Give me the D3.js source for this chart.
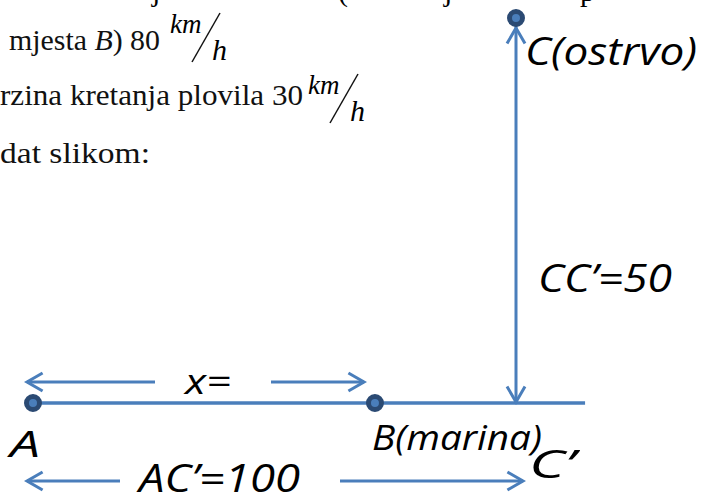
<!DOCTYPE html>
<html><head><meta charset="utf-8">
<script src="https://cdn.jsdelivr.net/npm/d3@7"></script>
<style>body{margin:0;background:#fff}svg{display:block}</style>
</head><body>
<svg id="c" width="701" height="500"></svg>
<script>
// diagram data (units: km along AC', km along CC')
const pointNames = ["A", "B", "C'", "C"];
const pointX = [0, 70.8, 100, 100];
const pointY = [0, 0, 0, 50];
const dotNames = ["A", "B", "C"];
const lineEndX = 114.3;
const distLabels = ["x=", "AC’=100", "CC’=50"];
const pointLabels = ["A", "B(marina)", "C’", "C(ostrvo)"];
const textLines = ["mjesta B) 80", "rzina kretanja plovila 30", "dat slikom:"];

const svg = d3.select("#c");
const xs = d3.scaleLinear().domain([0, 100]).range([33, 516]);
const ys = d3.scaleLinear().domain([0, 50]).range([403, 18]);
const P = {};
pointNames.forEach((n, i) => P[n] = {x: xs(pointX[i]), y: ys(pointY[i])});

const blue = "#4a7ebb", dark = "#2b4a73";
const sans = "'Open Sans', Lato, sans-serif";
const serif = "'Liberation Serif', 'DejaVu Serif', serif";

function arrowHead(g, x, y, dir) {
  const L = 18, a = 30 * Math.PI / 180, t = dir * Math.PI / 180;
  const p1 = [x - L * Math.cos(t - a), y - L * Math.sin(t - a)];
  const p2 = [x - L * Math.cos(t + a), y - L * Math.sin(t + a)];
  g.append("path").attr("d", `M${p1}L${x},${y}L${p2}`)
    .attr("fill", "none").attr("stroke", blue).attr("stroke-width", 3).attr("stroke-linejoin", "miter");
}
function arrowLine(x1, y1, x2, y2) {
  svg.append("line").attr("x1", x1).attr("y1", y1).attr("x2", x2).attr("y2", y2)
    .attr("stroke", blue).attr("stroke-width", 3);
  arrowHead(svg, x2, y2, Math.atan2(y2 - y1, x2 - x1) * 180 / Math.PI);
}

// top partial text line (descenders of the line above, cut by the page edge)
const topLine = svg.append("text").attr("y", 1).attr("font-family", serif).attr("font-size", 30).attr("fill", "#000");
[["j", 152], ["(", 338], ["j", 444], ["p", 580]].forEach(([c, x]) =>
  topLine.append("tspan").attr("x", x).text(c));

// serif text lines
const tl = [[9, 50, 151], [0, 105, 303], [0, 163, 150]];
textLines.forEach((t, i) => {
  const tx = svg.append("text").attr("x", tl[i][0]).attr("y", tl[i][1])
    .attr("font-family", serif).attr("font-size", 30).attr("fill", "#111")
    .attr("textLength", tl[i][2]).attr("lengthAdjust", "spacingAndGlyphs");
  if (i === 0) {
    tx.append("tspan").text("mjesta ");
    tx.append("tspan").attr("font-style", "italic").text("B");
    tx.append("tspan").text(") 80");
  } else tx.text(t);
});
function frac(x, y) {
  svg.append("text").attr("x", x).attr("y", y).attr("font-family", serif)
    .attr("font-style", "italic").attr("font-size", 27).text("km");
  svg.append("line").attr("x1", x + 22).attr("y1", y + 29).attr("x2", x + 50).attr("y2", y - 20)
    .attr("stroke", "#111").attr("stroke-width", 1.5);
  svg.append("text").attr("x", x + 42).attr("y", y + 27).attr("font-family", serif)
    .attr("font-style", "italic").attr("font-size", 30).text("h");
}
frac(170, 33);
frac(308, 94);

svg.append("line").attr("x1", P.A.x).attr("y1", P.A.y).attr("x2", xs(lineEndX)).attr("y2", P.A.y)
  .attr("stroke", blue).attr("stroke-width", 3.5);
svg.append("line").attr("x1", P.C.x).attr("y1", P.C.y + 8).attr("x2", P["C'"].x).attr("y2", P["C'"].y)
  .attr("stroke", blue).attr("stroke-width", 3);
arrowHead(svg, P.C.x, P.C.y + 10, -90);
arrowHead(svg, P["C'"].x, P["C'"].y - 1, 90);

arrowLine(155, 382, 27, 382);
arrowLine(271, 382, 364, 382);
arrowLine(120, 481, 27, 481);
arrowLine(340, 481, 523, 481);

dotNames.forEach(n => {
  svg.append("circle").attr("cx", P[n].x).attr("cy", P[n].y).attr("r", 6.5)
    .attr("fill", blue).attr("stroke", dark).attr("stroke-width", 5);
});

function lab(t, x, y, size, w) {
  svg.append("text").attr("x", x).attr("y", y).attr("font-family", sans)
    .attr("font-style", "italic").attr("font-size", size).attr("fill", "#000")
    .attr("textLength", w).attr("lengthAdjust", "spacingAndGlyphs").text(t);
}
lab(distLabels[0], 185, 394, 34, 46);
lab(distLabels[1], 139, 492, 38, 161);
lab(distLabels[2], 538, 292, 38, 134);
lab(pointLabels[0], 10, 457, 36, 30);
lab(pointLabels[1], 372, 450, 34, 170);
lab(pointLabels[2], 529, 478, 38, 46);
lab(pointLabels[3], 525, 65, 38, 172);
</script>
</body></html>
